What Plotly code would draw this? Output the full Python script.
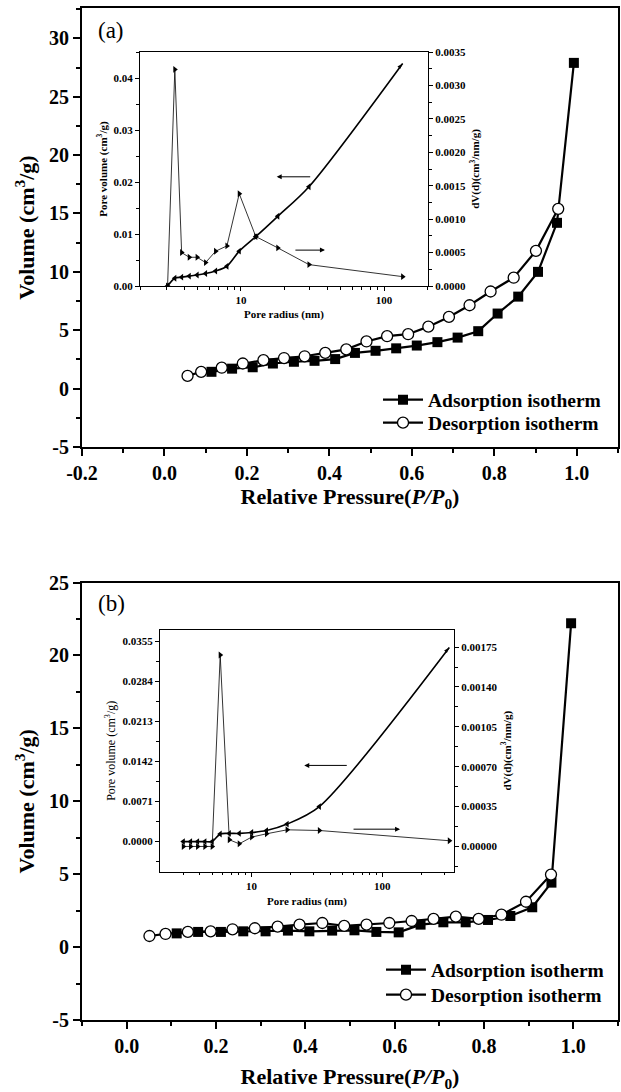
import math
import plotly.graph_objects as go

# ---------------- Panel (a) : N2 sorption isotherms ----------------
p_ads_a = [0.114, 0.164, 0.214, 0.263, 0.314, 0.364, 0.414, 0.462, 0.512, 0.562,
           0.612, 0.662, 0.711, 0.761, 0.808, 0.858, 0.906, 0.952, 0.993]
v_ads_a = [1.44, 1.71, 1.83, 2.15, 2.30, 2.38, 2.53, 3.06, 3.24, 3.45,
           3.69, 3.98, 4.37, 4.92, 6.43, 7.88, 10.0, 14.2, 27.9]
p_des_a = [0.056, 0.089, 0.139, 0.190, 0.240, 0.290, 0.340, 0.390, 0.441, 0.490,
           0.540, 0.591, 0.640, 0.690, 0.740, 0.791, 0.847, 0.901, 0.955]
v_des_a = [1.09, 1.44, 1.79, 2.15, 2.44, 2.62, 2.77, 3.06, 3.36, 4.04,
           4.49, 4.66, 5.31, 6.14, 7.14, 8.32, 9.50, 11.8, 15.4]

# Panel (a) inset : pore size distribution
radius_a = [3.07, 3.45, 3.85, 4.35, 4.94, 5.66, 6.65, 7.98, 9.73, 12.7, 18.1, 29.9, 135]
cumvol_a = [0.0000, 0.0015, 0.0017, 0.0019, 0.0021, 0.0024, 0.0029, 0.0038, 0.0067,
            0.0095, 0.0134, 0.0191, 0.0428]
dvd_a = [0.0, 0.00324, 0.00050, 0.00043, 0.00043, 0.00035, 0.00052, 0.00060, 0.00138,
         0.00074, 0.00057, 0.00032, 0.00014]

# ---------------- Panel (b) : N2 sorption isotherms ----------------
p_ads_b = [0.112, 0.160, 0.211, 0.261, 0.311, 0.361, 0.409, 0.460, 0.510, 0.559,
           0.609, 0.658, 0.709, 0.759, 0.809, 0.859, 0.908, 0.951, 0.995]
v_ads_b = [0.94, 1.04, 1.04, 1.08, 1.08, 1.13, 1.08, 1.13, 1.15, 1.04,
           1.01, 1.54, 1.70, 1.70, 1.86, 2.13, 2.73, 4.42, 22.2]
p_des_b = [0.051, 0.087, 0.137, 0.188, 0.237, 0.287, 0.338, 0.387, 0.438, 0.487,
           0.537, 0.588, 0.638, 0.687, 0.737, 0.788, 0.839, 0.894, 0.950]
v_des_b = [0.76, 0.90, 1.04, 1.08, 1.22, 1.29, 1.40, 1.54, 1.65, 1.45,
           1.54, 1.65, 1.79, 1.93, 2.09, 1.93, 2.22, 3.11, 4.97]

# Panel (b) inset : pore size distribution
radius_b = [3.00, 3.41, 3.86, 4.39, 4.99, 5.75, 6.75, 8.04, 10.0, 13.0, 18.7, 33.0, 326]
cumvol_b = [0.0, 0.0, 0.0, 0.0, 0.0, 0.00136, 0.00145, 0.00145, 0.00160, 0.00195,
            0.00310, 0.00620, 0.0344]
dvd_b = [0.0, 0.0, 0.0, 0.0, 0.0, 0.00168, 0.000059, 0.000023, 0.000082, 0.000111,
         0.000146, 0.000140, 0.000050]

# Tick labels
xtick_a = [-0.2, 0.0, 0.2, 0.4, 0.6, 0.8, 1.0]
xtick_b = [0.0, 0.2, 0.4, 0.6, 0.8, 1.0]
ytick_a = [-5, 0, 5, 10, 15, 20, 25, 30]
ytick_b = [-5, 0, 5, 10, 15, 20, 25]
log_major = [10, 100]
log_minor_a = [2, 3, 4, 5, 6, 7, 8, 9, 20, 30, 40, 50, 60, 70, 80, 90, 200]
log_minor_b = [3, 4, 5, 6, 7, 8, 9, 20, 30, 40, 50, 60, 70, 80, 90, 200, 300]

FONT = "'Liberation Serif', 'Times New Roman', serif"
W, H = 621, 1092


def fx(px):
    return px / W


def fy(py):
    return 1 - py / H


fig = go.Figure()

sq = dict(symbol="square", size=10, color="black", line=dict(color="black", width=0))
circ = dict(symbol="circle", size=11, color="white", line=dict(color="black", width=1.3))
iso_line = dict(color="black", width=2.2)

# ---- main isotherm traces (one legend box per entry) ----
fig.add_trace(go.Scatter(x=p_ads_a, y=v_ads_a, mode="lines+markers", name="Adsorption isotherm",
                         line=iso_line, marker=sq, xaxis="x", yaxis="y", legend="legend"))
fig.add_trace(go.Scatter(x=p_des_a, y=v_des_a, mode="lines+markers", name="Desorption isotherm",
                         line=iso_line, marker=circ, xaxis="x", yaxis="y", legend="legend2"))
fig.add_trace(go.Scatter(x=p_ads_b, y=v_ads_b, mode="lines+markers", name="Adsorption isotherm",
                         line=iso_line, marker=sq, xaxis="x3", yaxis="y4", legend="legend3"))
fig.add_trace(go.Scatter(x=p_des_b, y=v_des_b, mode="lines+markers", name="Desorption isotherm",
                         line=iso_line, marker=circ, xaxis="x3", yaxis="y4", legend="legend4"))


# ---- inset traces ----
def end_arrow_symbols(n):
    return ["triangle-left"] * (n - 1) + ["arrow"], [0] * (n - 1) + [42]


sym_a, ang_a = end_arrow_symbols(len(radius_a))
fig.add_trace(go.Scatter(x=radius_a, y=cumvol_a, mode="lines+markers", showlegend=False,
                         line=dict(color="black", width=1.6, shape="spline", smoothing=0.8),
                         marker=dict(symbol=sym_a, angle=ang_a, size=6, color="black"),
                         xaxis="x2", yaxis="y2"))
fig.add_trace(go.Scatter(x=radius_a, y=dvd_a, mode="lines+markers", showlegend=False,
                         line=dict(color="black", width=0.8),
                         marker=dict(symbol="triangle-right", size=6, color="black"),
                         xaxis="x2", yaxis="y3"))

sym_b, ang_b = end_arrow_symbols(len(radius_b))
fig.add_trace(go.Scatter(x=radius_b, y=cumvol_b, mode="lines+markers", showlegend=False,
                         line=dict(color="black", width=1.6, shape="spline", smoothing=0.8),
                         marker=dict(symbol=sym_b, angle=ang_b, size=6, color="black"),
                         xaxis="x4", yaxis="y5"))
fig.add_trace(go.Scatter(x=radius_b, y=dvd_b, mode="lines+markers", showlegend=False,
                         line=dict(color="black", width=0.8),
                         marker=dict(symbol="triangle-right", size=6, color="black"),
                         xaxis="x4", yaxis="y6"))

# ---- axis styling ----
tick_font_main = dict(family=FONT, size=20, color="black", weight="bold")
title_font_main = dict(family=FONT, size=22, color="black", weight="bold")
tick_font_in = dict(family=FONT, size=11, color="black", weight="bold")
title_font_in = dict(family=FONT, size=11, color="black", weight="bold")

main_common = dict(showgrid=False, zeroline=False, showline=True, linecolor="black", linewidth=2,
                   mirror=True, ticks="outside", ticklen=7, tickwidth=2, tickcolor="black",
                   tickfont=tick_font_main, automargin=False)
in_common = dict(showgrid=False, zeroline=False, showline=True, linecolor="black", linewidth=1.2,
                 ticks="outside", ticklen=4, tickwidth=1, tickcolor="black",
                 tickfont=tick_font_in, automargin=False)
minor_main = dict(ticks="outside", ticklen=4, tickwidth=2, tickcolor="black")
minor_in = dict(ticks="outside", ticklen=2.5, tickwidth=1, tickcolor="black")

dom_a_x = [fx(82), fx(618)]
dom_a_y = [fy(447), fy(8)]
dom_ai_x = [fx(140), fx(428)]
dom_ai_y = [fy(286), fy(52)]
dom_b_x = [fx(82), fx(618)]
dom_b_y = [fy(1020), fy(582.5)]
dom_bi_x = [fx(160), fx(454)]
dom_bi_y = [fy(871.5), fy(630)]

xtitle_text = "Relative Pressure(<i>P/P</i><sub>0</sub>)"
ytitle = dict(text="Volume (cm<sup>3</sup>/g)", font=title_font_main, standoff=8)

fig.update_layout(
    xaxis=dict(**main_common, domain=dom_a_x, anchor="y", range=[-0.2, 1.1],
               tickmode="array", tickvals=xtick_a, ticktext=[f"{v:.1f}" for v in xtick_a],
               minor=dict(dtick=0.1, tick0=0, **minor_main),
               title=dict(text=xtitle_text, font=title_font_main, standoff=4)),
    yaxis=dict(**main_common, domain=dom_a_y, anchor="x", range=[-5, 32.6],
               tickmode="array", tickvals=ytick_a, ticktext=[str(v) for v in ytick_a],
               minor=dict(dtick=2.5, tick0=0, **minor_main), title=ytitle),
    xaxis3=dict(**main_common, domain=dom_b_x, anchor="y4", range=[-0.1, 1.1],
                tickmode="array", tickvals=xtick_b, ticktext=[f"{v:.1f}" for v in xtick_b],
                minor=dict(dtick=0.1, tick0=0, **minor_main),
                title=dict(text=xtitle_text, font=title_font_main, standoff=18)),
    yaxis4=dict(**main_common, domain=dom_b_y, anchor="x3", range=[-5, 25],
                tickmode="array", tickvals=ytick_b, ticktext=[str(v) for v in ytick_b],
                minor=dict(dtick=2.5, tick0=0, **minor_main), title=ytitle),
    # inset (a)
    xaxis2=dict(**in_common, type="log", domain=dom_ai_x, anchor="y2",
                range=[math.log10(1.97), math.log10(203)], mirror=True,
                tickmode="array", tickvals=log_major, ticktext=[str(v) for v in log_major],
                minor=dict(tickvals=log_minor_a, **minor_in),
                title=dict(text="Pore radius (nm)", font=title_font_in, standoff=5)),
    yaxis2=dict(**in_common, domain=dom_ai_y, anchor="x2", range=[0, 0.045],
                tick0=0, dtick=0.01, tickformat=".2f",
                minor=dict(dtick=0.005, **minor_in),
                title=dict(text="Pore volume (cm<sup>3</sup>/g)", font=title_font_in, standoff=3)),
    yaxis3=dict(**in_common, overlaying="y2", side="right", anchor="x2", range=[0, 0.0035],
                tick0=0, dtick=0.0005, tickformat=".4f",
                minor=dict(dtick=0.00025, **minor_in),
                title=dict(text="dV(d)(cm<sup>3</sup>/nm/g)", font=title_font_in, standoff=6)),
    # inset (b)
    xaxis4=dict(**in_common, type="log", domain=dom_bi_x, anchor="y5",
                range=[math.log10(1.99), math.log10(354)], mirror=True,
                tickmode="array", tickvals=log_major, ticktext=[str(v) for v in log_major],
                minor=dict(tickvals=log_minor_b, **minor_in),
                title=dict(text="Pore radius (nm)", font=title_font_in, standoff=6)),
    yaxis5=dict(**in_common, domain=dom_bi_y, anchor="x4", range=[-0.0053, 0.0375],
                tick0=0, dtick=0.0071, tickformat=".4f",
                minor=dict(dtick=0.00355, tick0=0, **minor_in),
                title=dict(text="Pore volume (cm<sup>3</sup>/g)",
                           font=dict(family=FONT, size=12, color="black"), standoff=4)),
    yaxis6=dict(**in_common, overlaying="y5", side="right", anchor="x4", range=[-0.00022, 0.0019],
                tick0=0, dtick=0.00035, tickformat=".5f",
                minor=dict(dtick=0.000175, tick0=0, **minor_in),
                title=dict(text="dV(d)(cm<sup>3</sup>/nm/g)", font=title_font_in, standoff=6)),
)

legend_style = dict(font=dict(family=FONT, size=19.5, color="black", weight="bold"),
                    bgcolor="rgba(0,0,0,0)", borderwidth=0, xanchor="left", yanchor="middle",
                    itemwidth=40)
fig.update_layout(
    legend=dict(**legend_style, x=fx(378), y=fy(400)),
    legend2=dict(**legend_style, x=fx(378), y=fy(423)),
    legend3=dict(**legend_style, x=fx(381), y=fy(970)),
    legend4=dict(**legend_style, x=fx(381), y=fy(995)),
)

# panel labels and arrows pointing to the relevant inset axis
ann = [
    dict(text="(a)", x=fx(96), y=fy(30), xref="paper", yref="paper", xanchor="left", yanchor="middle",
         showarrow=False, font=dict(family=FONT, size=23, color="black")),
    dict(text="(b)", x=fx(96), y=fy(603), xref="paper", yref="paper", xanchor="left", yanchor="middle",
         showarrow=False, font=dict(family=FONT, size=23, color="black")),
]
arrow_style = dict(text="", showarrow=True, arrowhead=2, arrowsize=1, arrowwidth=1, arrowcolor="black",
                   axref="pixel", ayref="pixel")
ann += [
    dict(**arrow_style, xref="x2", yref="y2", x=1.250, y=0.0210, ax=35, ay=0),
    dict(**arrow_style, xref="x2", yref="y2", x=1.587, y=0.0069, ax=-31, ay=0),
    dict(**arrow_style, xref="x4", yref="y5", x=1.403, y=0.0135, ax=44, ay=0),
    dict(**arrow_style, xref="x4", yref="y5", x=2.136, y=0.0022, ax=-48, ay=0),
]

fig.update_layout(
    annotations=ann,
    width=W, height=H, margin=dict(l=0, r=0, t=0, b=0),
    paper_bgcolor="white", plot_bgcolor="rgba(0,0,0,0)",
    template="none", font=dict(family=FONT, color="black"),
)

fig.write_html("out.html")
